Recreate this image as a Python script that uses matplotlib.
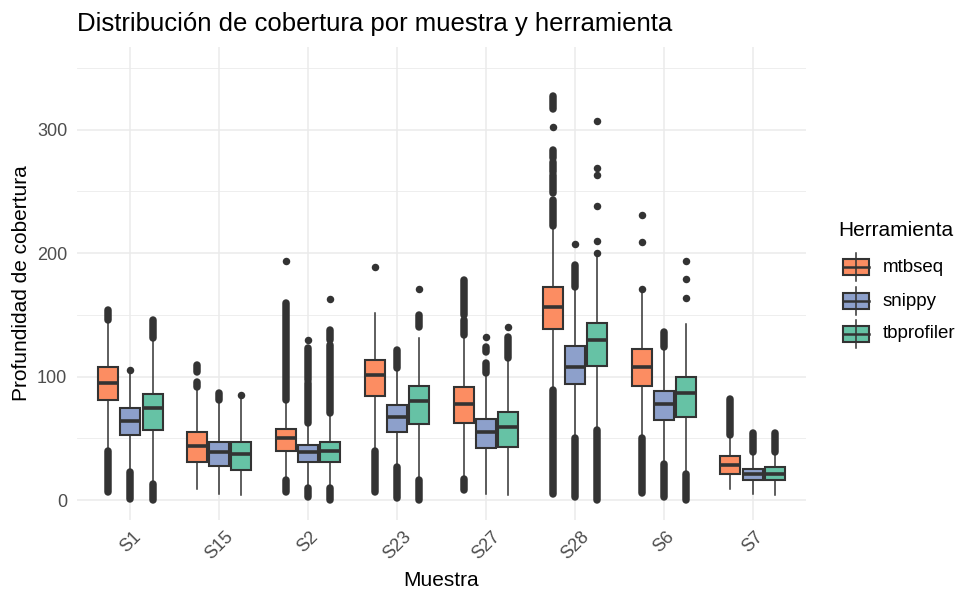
import matplotlib
matplotlib.use("Agg")
import matplotlib.pyplot as plt
from matplotlib.patches import Rectangle
import numpy as np

plt.rcParams['font.family'] = ['Liberation Sans', 'DejaVu Sans']

samples = ["S1", "S15", "S2", "S23", "S27", "S28", "S6", "S7"]
tools = ["mtbseq", "snippy", "tbprofiler"]
colors = ["#FC8D62", "#8DA0CB", "#66C2A5"]

# box stats, one value per sample
mtbseq_q1 = [81, 31, 40, 84.6, 62.2, 138.4, 92.7, 21.6]
mtbseq_med = [95, 44, 50, 101.4, 77.6, 156.8, 108, 28.4]
mtbseq_q3 = [108, 55.4, 58, 113.5, 91.9, 172.5, 122.2, 35.7]
mtbseq_lo = [42, 9.5, 16, 42, 17.6, 89, 50, 9.5]
mtbseq_hi = [146, 90, 81, 151.4, 134, 221.7, 171, 52.7]
mtbseq_out = [[], [], [194], [188.7], [], [302], [171, 209.5, 231], []]
# dense outlier columns (overlapping points) as (low, high)
mtbseq_runs = [[(146, 154), (7, 40)],
               [(91.5, 96), (104, 109.5)],
               [(81, 159.5), (7, 16)],
               [(6.8, 40)],
               [(134, 146), (150, 178), (8, 17.6)],
               [(222, 243), (249, 263), (266, 274), (277, 284), (317, 327.6), (5.4, 89)],
               [(6, 50)],
               [(52.7, 81.7)]]

snippy_q1 = [52.7, 27.6, 31, 55.4, 41.9, 94, 64.9, 16.2]
snippy_med = [64.3, 38.7, 38.7, 67, 54.9, 108, 77.6, 21.6]
snippy_q3 = [74.4, 47.3, 44.6, 77, 65.7, 125, 88.7, 25.7]
snippy_lo = [23, 5.4, 9.7, 27, 5.4, 50, 29.7, 5.4]
snippy_hi = [105.4, 81, 62.4, 106.8, 103, 173, 124.3, 39.2]
snippy_out = [[105.4], [], [129.8], [], [132], [207.4], [], []]
snippy_runs = [[(1.4, 23)],
               [(81, 87)],
               [(62.4, 95), (97.5, 123), (3, 9.7)],
               [(106.8, 121.6), (2, 27)],
               [(120, 124), (103, 111)],
               [(173, 190.6), (2.7, 50)],
               [(124.3, 136.5), (2.7, 29.7)],
               [(39.2, 54.6)]]

tbprofiler_q1 = [56.8, 24.3, 31, 62, 43.2, 109, 67.6, 16.2]
tbprofiler_med = [74.9, 37.3, 40, 80.5, 59.5, 129.8, 87, 21.6]
tbprofiler_q3 = [86, 47.3, 47.3, 92.4, 71.1, 143.8, 99.5, 27]
tbprofiler_lo = [13.5, 4, 9.7, 16, 4, 56.8, 21.6, 4]
tbprofiler_hi = [131, 85.2, 70.5, 131, 115, 197.3, 142.7, 39.2]
tbprofiler_out = [[], [85.2], [162.8], [170.9], [140.6],
                  [200.6, 210, 238, 263.6, 269, 306.8], [164, 179, 193.8], []]
tbprofiler_runs = [[(131, 146), (0.5, 13.5)],
                   [],
                   [(70.5, 125.7), (130, 138), (0.5, 9.7)],
                   [(140.6, 150), (0.5, 16)],
                   [(115, 132)],
                   [(0.5, 56.8)],
                   [(0.5, 21.6)],
                   [(39.2, 54.6)]]

data = {
    "mtbseq": (mtbseq_q1, mtbseq_med, mtbseq_q3, mtbseq_lo, mtbseq_hi, mtbseq_out, mtbseq_runs),
    "snippy": (snippy_q1, snippy_med, snippy_q3, snippy_lo, snippy_hi, snippy_out, snippy_runs),
    "tbprofiler": (tbprofiler_q1, tbprofiler_med, tbprofiler_q3, tbprofiler_lo, tbprofiler_hi,
                   tbprofiler_out, tbprofiler_runs),
}

W, H = 958, 595
fig = plt.figure(figsize=(W / 100, H / 100), dpi=100)
ax = fig.add_axes([77 / W, 1 - 520 / H, (806 - 77) / W, (520 - 47) / H])

edge = "#333333"
dot = 5.4
x = np.arange(1, len(samples) + 1)
for k, tool in enumerate(tools):
    q1, med, q3, lo, hi, out, runs = data[tool]
    pos = x + (k - 1) * 0.25
    stats = [dict(q1=q1[i], med=med[i], q3=q3[i], whislo=lo[i], whishi=hi[i], fliers=out[i])
             for i in range(len(samples))]
    ax.bxp(stats, positions=pos, widths=0.225, patch_artist=True, showcaps=False,
           boxprops=dict(facecolor=colors[k], edgecolor=edge, linewidth=1.5),
           medianprops=dict(color=edge, linewidth=2.6, solid_capstyle='butt'),
           whiskerprops=dict(color=edge, linewidth=1.1),
           flierprops=dict(marker='o', markersize=dot, markerfacecolor=edge,
                           markeredgewidth=0), zorder=3)
    for i in range(len(samples)):
        for a, b in runs[i]:
            ax.vlines(pos[i], a, b, color=edge, linewidth=dot, capstyle='round', zorder=2.5)

ax.set_xlim(0.4, 8.6)
ax.set_ylim(-16, 367)
ax.set_xticks(x)
ax.set_xticklabels(samples, rotation=45, ha='center', va='top', fontsize=13, color="#4D4D4D")
ax.set_yticks([0, 100, 200, 300])
ax.set_yticks([50, 150, 250, 350], minor=True)
ax.tick_params(axis='both', which='both', length=0)
ax.tick_params(axis='y', labelsize=13, labelcolor="#4D4D4D", pad=7)
ax.tick_params(axis='x', pad=6)
ax.grid(which='major', color="#EBEBEB", linewidth=1.1)
ax.grid(which='minor', axis='y', color="#EBEBEB", linewidth=0.6)
ax.set_axisbelow(True)
for s in ax.spines.values():
    s.set_visible(False)

fig.text(77 / W, 1 - 24 / H, "Distribución de cobertura por muestra y herramienta",
         fontsize=18.5, ha='left', va='center', color='black')
fig.text(441 / W, 1 - 580 / H, "Muestra", fontsize=15, ha='center', va='center')
fig.text(22 / W, 1 - 283 / H, "Profundidad de cobertura", fontsize=15, ha='center',
         va='center', rotation=90)

# legend drawn in pixel coordinates
lg = fig.add_axes([0, 0, 1, 1])
lg.set_xlim(0, W)
lg.set_ylim(H, 0)
lg.axis('off')
lg.text(838, 231, "Herramienta", fontsize=15, ha='left', va='center')
key_y = [267, 301, 334]
for k, tool in enumerate(tools):
    cy = key_y[k]
    lg.plot([856, 856], [cy - 14, cy + 14], color=edge, linewidth=1.1)
    lg.add_patch(Rectangle((843, cy - 8), 26, 16, facecolor=colors[k], edgecolor=edge,
                           linewidth=1.5))
    lg.plot([843, 869], [cy, cy], color=edge, linewidth=1.8)
    lg.text(883, cy, tool, fontsize=13.5, ha='left', va='center')

fig.savefig("out.png", dpi=100)
